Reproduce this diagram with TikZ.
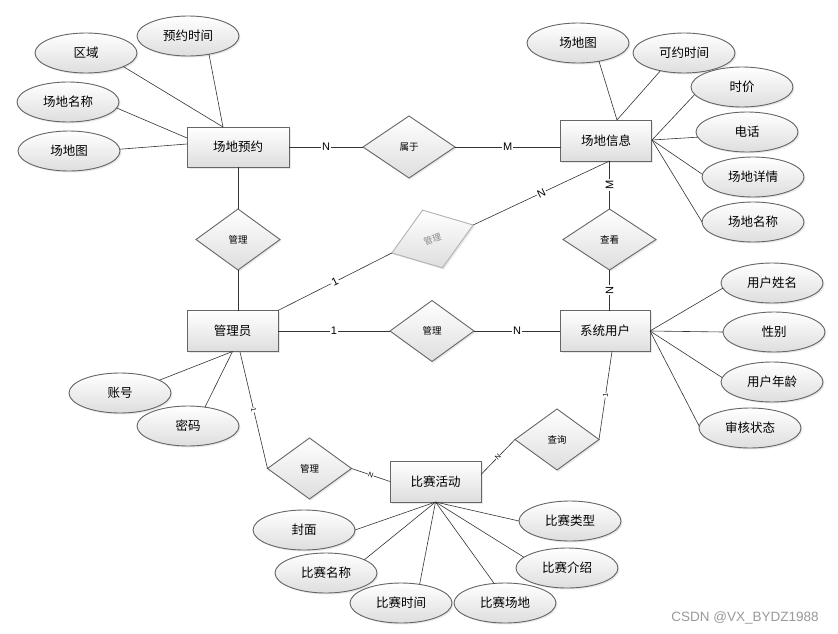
\documentclass[tikz,border=0pt]{standalone}
\usepackage{fontspec}
\setmainfont{Noto Sans CJK SC}
\newfontfamily\latin{Liberation Sans}
\usetikzlibrary{shapes.geometric, shadows}

\begin{document}
\begin{tikzpicture}[
        x = 1pt, y = -1pt,
   erbox/.style = {draw=black!60, line width=0.9pt, top color=white, bottom color=black!13,
                   inner sep=0pt, outer sep=0pt,
                   drop shadow={opacity=0.18, shadow xshift=1.5pt, shadow yshift=-1.5pt}},
  entity/.style = {erbox, rectangle, minimum width=91pt, minimum height=41pt,
                   font=\fontsize{12.5}{14}\selectfont},
    attr/.style = {erbox, ellipse, minimum width=102pt, minimum height=40pt,
                   font=\fontsize{12.5}{14}\selectfont},
     rel/.style = {erbox, diamond, minimum width=84pt, minimum height=61pt,
                   font=\fontsize{9.5}{11}\selectfont},
  erline/.style = {draw=black!80, line width=0.6pt},
    card/.style = {fill=white, inner sep=1pt, font=\latin\fontsize{11}{12}\selectfont},
   small/.style = {fill=white, inner sep=0.3pt, sloped, font=\latin\fontsize{7}{7}\selectfont}
                        ]
\path[fill=white] (0,0) rectangle (838,634);
% entities
\node[entity, minimum width=102pt, minimum height=40pt] (cdyy) at (238,147) {场地预约};
\node[entity] (cdxx) at (606,140.5) {场地信息};
\node[entity] (gly) at (232.5,331) {管理员};
\node[entity, minimum width=90pt] (xtyh) at (605,331) {系统用户};
\node[entity] (bshd) at (435.5,481.5) {比赛活动};
% relations
\node[rel, minimum width=92pt, minimum height=62pt] (sy) at (409,147) {属于};
\node[rel] (gl1) at (238,239.5) {管理};
\node[rel, minimum width=86pt, rotate=19, draw=black!30, text=black!45,
      font=\fontsize{9}{10}\selectfont] (gl2) at (432.5,239) {管理};
\node[rel, minimum width=93pt] (ck) at (609.5,239.5) {查看};
\node[rel] (gl3) at (432,331) {管理};
\node[rel] (gl4) at (309.5,468.5) {管理};
\node[rel] (cx) at (557,439.5) {查询};
% attributes
\node[attr] (qy) at (86,53) {区域};
\node[attr] (yysj) at (188,36) {预约时间};
\node[attr] (cdmc1) at (68,102) {场地名称};
\node[attr] (cdt1) at (69,151) {场地图};
\node[attr] (cdt2) at (578,43) {场地图};
\node[attr] (kysj) at (684,53) {可约时间};
\node[attr] (sj) at (742,87) {时价};
\node[attr] (dh) at (747,132) {电话};
\node[attr] (cdxq) at (753,177) {场地详情};
\node[attr] (cdmc2) at (753,222) {场地名称};
\node[attr] (yhxm) at (772,283) {用户姓名};
\node[attr] (xb) at (774,332) {性别};
\node[attr] (yhnl) at (772,382) {用户年龄};
\node[attr] (shzt) at (750,428) {审核状态};
\node[attr] (zh) at (120,393) {账号};
\node[attr] (mm) at (188,426) {密码};
\node[attr] (fm) at (304,530) {封面};
\node[attr] (bsmc) at (326,573) {比赛名称};
\node[attr] (bssj) at (401,603) {比赛时间};
\node[attr] (bscd) at (505,603) {比赛场地};
\node[attr] (bsjs) at (567,568) {比赛介绍};
\node[attr] (bslx) at (570,521) {比赛类型};
% meeting points of the attribute lines
\coordinate (cdyy-n) at (223,127);
\coordinate (cdyy-w1) at (187,138);
\coordinate (cdyy-w2) at (187,144);
\coordinate (cdxx-n) at (617,120);
\coordinate (cdxx-e) at (652,140);
\coordinate (gly-s) at (240,352);
% attribute lines
\draw[erline] (qy.-20) -- (cdyy-n);
\draw[erline] (yysj.-41) -- (cdyy-n);
\draw[erline] (cdmc1.-7) -- (cdyy-w1);
\draw[erline] (cdt1.2) -- (cdyy-w2);
\draw[erline] (cdt2.-41) -- (cdxx-n);
\draw[erline] (kysj.-143) -- (cdxx-n);
\foreach \n/\a in {sj/-171, dh/-174, cdxq/177, cdmc2/180}
    \draw[erline] (\n.\a) -- (cdxx-e);
\foreach \n/\a in {yhxm/-174, xb/180, yhnl/175, shzt/178}
    \draw[erline] (\n.\a) -- (xtyh.east);
\foreach \n/\a in {zh/18, mm/48}
    \draw[erline] (\n.\a) -- (gly.south);
\foreach \n/\a in {fm/0, bsmc/19, bssj/45, bscd/119, bsjs/166, bslx/180}
    \draw[erline] (\n.\a) -- (bshd.south);
% relation lines
\draw[erline] (cdyy) -- node[card] {N} (sy);
\draw[erline] (sy) -- node[card] {M} (sy -| cdxx.west);
\draw[erline] (gl1) -- (cdyy);
\draw[erline] (gl1) -- (gl1 |- gly.north);
\draw[erline] (gly.north east) -- node[card, sloped] {1} (gl2.west);
\draw[erline] (gl2.east) -- node[card, sloped] {N} (ck |- cdxx.south);
\draw[erline] (ck) -- node[card, rotate=90] {M} (ck |- cdxx.south);
\draw[erline] (ck) -- node[card, rotate=90] {N} (ck |- xtyh.north);
\draw[erline] (gly) -- node[card] {1} (gl3);
\draw[erline] (gl3) -- node[card] {N} (xtyh);
\draw[erline] (gly-s) -- node[small] {1} (gl4.west);
\draw[erline] (gl4.east) -- node[small] {N} (bshd.west);
\draw[erline] ([yshift=7pt]bshd.east) -- node[small] {N} (cx.west);
\draw[erline] (cx.east) -- node[small] {1} ([xshift=7pt]xtyh.south);
% watermark
\node[text=black!40, font=\latin\fontsize{13.5}{14}\selectfont] (wm) at (745,618) {CSDN @VX\_BYDZ1988};
\end{tikzpicture}
\end{document}
